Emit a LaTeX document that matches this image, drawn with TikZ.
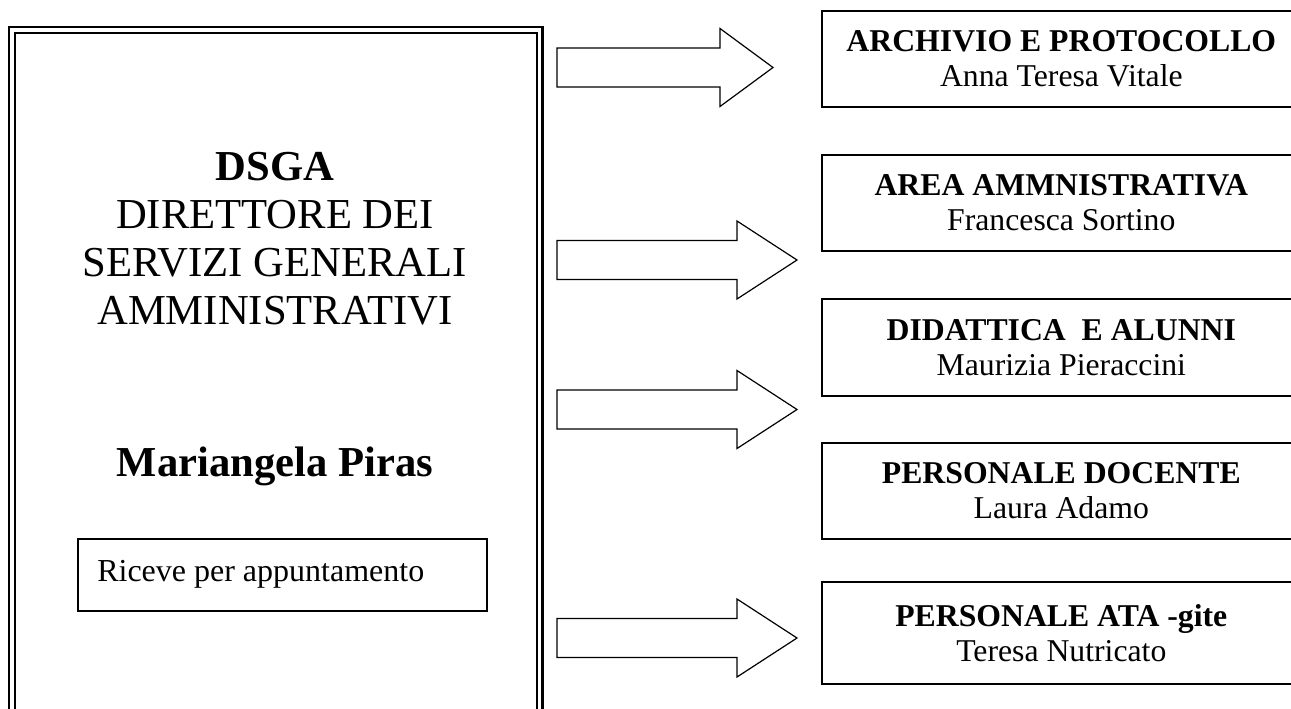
\documentclass[tikz,border=0pt]{standalone}
\usepackage{fontspec}
\setmainfont{Liberation Serif}
\usepackage{tikz}
\usetikzlibrary{calc}
\newcommand{\fatarrow}[4]{%
  \draw[arrowline] (#1,#2-19.5) -- (#3,#2-19.5) -- (#3,#2-39) -- (#4,#2)
    -- (#3,#2+39) -- (#3,#2+19.5) -- (#1,#2+19.5) -- cycle;}
\tikzset{
  arrowline/.style={line width=0.9pt, line join=miter},
  unitbox/.style={draw, line width=1.2pt, anchor=north west, align=center,
    inner sep=0pt, minimum width=359.25pt, minimum height=72pt,
    font=\fontsize{23.8}{26.25}\selectfont},
  bigtext/.style={inner sep=0pt, align=center, font=\fontsize{32}{36}\selectfont},
}

\begin{document}
\begin{tikzpicture}[x=0.75pt,y=-0.75pt]
        \clip (0,0) rectangle (1291,709);

        % direttore
        \node (dsga) at (11,29) [anchor=north west, draw, line width=1.6pt, double=white,
          double distance=2.8pt, minimum width=395.6pt, minimum height=700pt, inner sep=0pt] {};
        \node (titolo) at (275,152) [bigtext, anchor=north]
          {\textbf{DSGA}\\DIRETTORE DEI\\SERVIZI GENERALI\\AMMINISTRATIVI};
        \node (nome) at (275,476) [bigtext, anchor=base] {\textbf{Mariangela Piras}};
        \node (riceve) at (77,538) [draw, line width=1.2pt, anchor=north west,
          minimum width=306.75pt, minimum height=54pt, inner sep=0pt] {};
        \node (orario) at ($(riceve.west)+(20,0)$) [anchor=west, inner sep=0pt,
          font=\fontsize{24}{26}\selectfont] {Riceve per appuntamento};

        % uffici
        \node (archivio) at (821,10) [unitbox]
          {\textbf{ARCHIVIO E PROTOCOLLO}\\Anna Teresa Vitale};
        \node (area) at (821,154) [unitbox]
          {\textbf{AREA AMMNISTRATIVA}\\Francesca Sortino};
        \node (didattica) at (821,298) [unitbox, minimum height=72.75pt]
          {\textbf{DIDATTICA\ \ E ALUNNI}\\Maurizia Pieraccini};
        \node (docente) at (821,442) [unitbox]
          {\textbf{PERSONALE DOCENTE}\\Laura Adamo};
        \node (ata) at (821,581) [unitbox, minimum height=76.5pt]
          {\textbf{PERSONALE ATA -gite}\\Teresa Nutricato};

        % frecce
        \fatarrow{557}{67.5}{720}{773}
        \fatarrow{557}{260}{737}{797}
        \fatarrow{557}{409.5}{737}{797}
        \fatarrow{557}{638}{737}{797}
\end{tikzpicture}
\end{document}
